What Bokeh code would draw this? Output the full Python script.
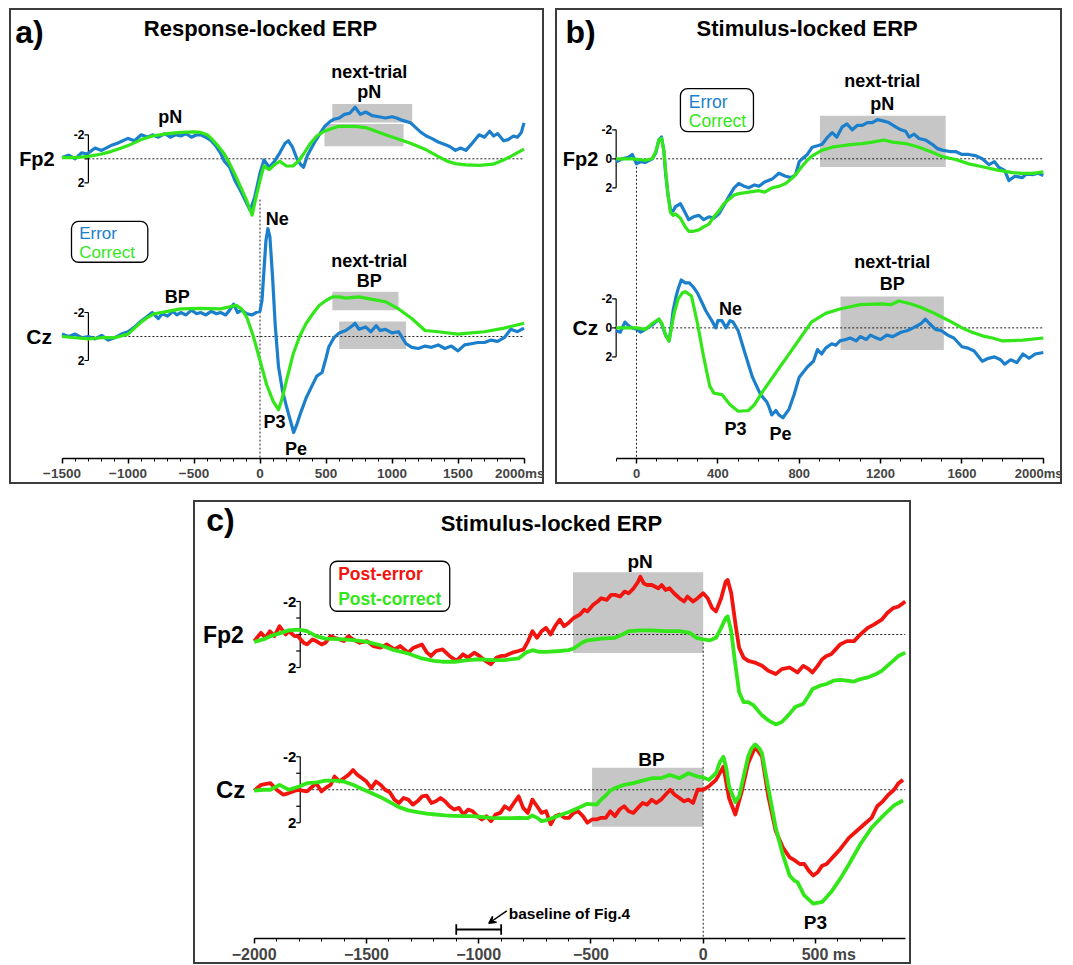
from bokeh.plotting import figure
from bokeh.models import LinearAxis, FixedTicker, BoxAnnotation, Arrow, VeeHead, Spacer
from bokeh.layouts import row, column
from bokeh.core.properties import value
from bokeh.embed import file_html
from bokeh.resources import INLINE

# ---------------- DATA (ms, microvolts; negative plotted upward) ----------------
# Panel a: response-locked
a_fp2_err_t = [-1500,-1450,-1400,-1350,-1310,-1250,-1200,-1130,-1080,-1000,-950,-900,-850,-815,-770,-720,-680,-640,-600,-560,-520,-480,-450,-410,-370,-330,-300,-270,-230,-190,-150,-110,-75,-40,0,30,70,110,150,190,215,245,280,310,330,360,385,420,460,490,530,560,600,640,680,720,760,800,850,900,950,1000,1035,1080,1140,1180,1220,1260,1300,1350,1400,1440,1480,1520,1560,1600,1660,1700,1740,1770,1800,1845,1880,1920,1950,1980,2000]
a_fp2_err_v = [-0.1,-0.3,0.0,-0.5,-0.4,-0.9,-0.7,-1.1,-1.3,-1.7,-1.5,-2.0,-1.8,-2.0,-1.8,-2.1,-1.8,-2.0,-1.9,-2.1,-1.8,-2.0,-2.0,-1.8,-1.5,-1.0,-0.5,0.2,0.7,1.8,2.6,3.5,4.3,3.2,1.2,0.1,0.7,0.2,-0.5,-1.3,-1.5,-1.0,0.0,0.5,0.7,-0.3,-0.8,-1.5,-2.2,-2.7,-3.1,-3.3,-3.4,-3.7,-3.8,-4.3,-3.7,-3.9,-3.6,-3.5,-3.4,-3.5,-3.4,-3.2,-3.0,-2.6,-2.2,-1.9,-1.7,-1.4,-1.2,-1.0,-0.7,-0.9,-0.7,-1.2,-2.0,-1.8,-2.3,-1.9,-2.1,-1.5,-1.6,-1.9,-1.8,-2.2,-3.0]
a_fp2_cor_t = [-1500,-1400,-1300,-1200,-1130,-1050,-1000,-900,-815,-700,-600,-500,-450,-400,-370,-320,-270,-230,-190,-140,-100,-60,-30,0,30,70,110,150,200,250,290,330,383,430,488,540,592,650,722,800,853,950,1035,1140,1250,1348,1420,1479,1560,1661,1766,1844,1900,1948,2000]
a_fp2_cor_v = [-0.1,-0.1,-0.2,-0.4,-0.6,-0.9,-1.1,-1.6,-1.9,-2.1,-2.2,-2.25,-2.2,-2.0,-1.7,-1.1,-0.4,0.4,1.3,2.5,3.5,4.7,3.2,1.8,0.6,0.9,0.5,0.2,0.6,0.6,0.2,-0.4,-1.3,-1.9,-2.3,-2.5,-2.7,-2.7,-2.7,-2.6,-2.4,-2.0,-1.7,-1.3,-0.8,-0.2,0.2,0.4,0.5,0.55,0.45,0.1,-0.2,-0.5,-0.8]
a_cz_err_t = [-1500,-1450,-1400,-1350,-1300,-1250,-1200,-1150,-1100,-1050,-1000,-950,-900,-850,-816,-770,-740,-700,-660,-630,-600,-560,-520,-480,-450,-410,-370,-330,-300,-260,-230,-200,-170,-140,-100,-60,-30,0,15,30,45,60,75,95,115,140,170,200,230,255,280,310,350,390,430,470,500,520,560,600,650,700,720,750,800,840,880,910,950,1000,1050,1106,1150,1200,1250,1300,1350,1400,1450,1500,1550,1600,1650,1700,1750,1800,1850,1900,1950,2000]
a_cz_err_v = [-0.2,0.0,-0.2,0.1,0.0,0.2,-0.1,0.3,0.1,-0.2,-0.4,-0.8,-1.3,-1.7,-2.0,-1.5,-1.9,-1.7,-2.1,-1.8,-2.0,-1.8,-2.2,-1.9,-2.0,-1.8,-2.1,-1.9,-2.0,-1.8,-2.2,-2.7,-2.0,-2.2,-1.9,-1.8,-2.0,-2.1,-3.0,-5.5,-8.0,-9.0,-8.3,-5.0,-1.0,2.5,4.5,5.8,7.0,8.0,7.3,6.3,5.1,4.2,3.3,3.0,1.8,0.9,0.1,-0.3,-0.5,-0.9,-1.1,-0.6,-0.8,-0.4,-0.9,-0.5,-0.6,-0.3,-0.4,0.6,0.9,1.0,0.8,0.9,0.7,1.0,0.8,1.2,0.7,0.6,0.5,0.5,0.3,0.4,0.1,-0.6,-0.4,-0.7]
a_cz_cor_t = [-1500,-1400,-1300,-1200,-1100,-1000,-950,-900,-850,-800,-700,-600,-450,-300,-220,-180,-140,-100,-50,0,50,100,140,170,200,250,300,350,400,450,500,550,600,650,750,850,950,1050,1150,1250,1350,1500,1600,1700,1850,2000]
a_cz_cor_v = [0.0,0.1,0.2,0.1,0.1,-0.2,-0.7,-1.2,-1.6,-1.9,-2.1,-2.3,-2.35,-2.3,-2.5,-2.6,-2.3,-1.6,0.0,2.0,4.0,5.4,6.1,5.1,3.7,1.5,0.0,-1.1,-1.9,-2.6,-3.0,-3.3,-3.3,-3.2,-3.3,-3.1,-2.9,-2.3,-1.5,-0.5,-0.4,-0.2,-0.3,-0.4,-0.7,-1.1]
# shaded windows: (start ms, end ms, top uV, bottom uV)
a_fp2_boxes = [(548, 1153, -4.57, -3.03), (488, 1088, -2.89, -1.04)]
a_cz_boxes = [(548, 1049, -3.73, -2.18), (600, 1106, -1.26, 1.04)]
a_ticks = [-1500, -1000, -500, 0, 500, 1000, 1500, 2000]

# Panel b: stimulus-locked
b_fp2_err_t = [-100,-70,-40,-21,0,20,44,77,95,110,123,135,143,155,167,180,192,216,235,257,280,307,330,356,380,405,430,454,480,503,530,552,580,602,630,667,700,733,760,782,800,815,840,864,890,913,940,962,985,1011,1035,1061,1085,1110,1135,1159,1185,1216,1240,1274,1300,1323,1340,1365,1389,1420,1454,1480,1503,1540,1569,1600,1634,1670,1700,1733,1760,1782,1810,1831,1860,1897,1920,1946,1975,2000]
b_fp2_err_v = [0.2,0.0,-0.1,-0.3,0.35,0.2,0.25,0.0,-0.4,-1.3,-1.5,-0.5,1.0,2.5,3.5,3.6,3.3,3.1,3.6,4.2,4.0,3.9,4.2,4.0,4.1,3.8,3.2,2.6,2.0,1.7,1.9,2.0,1.8,1.9,1.6,1.4,1.0,1.2,1.3,1.1,0.2,0.0,-0.3,-0.8,-0.9,-1.0,-1.5,-1.8,-1.5,-2.2,-2.4,-2.0,-2.3,-2.3,-2.5,-2.5,-2.7,-2.6,-2.5,-2.2,-2.0,-1.9,-1.5,-1.7,-1.4,-1.3,-1.0,-0.7,-0.6,-0.5,-0.5,-0.3,-0.3,-0.2,0.0,0.4,0.2,0.6,0.8,1.5,1.2,1.3,1.0,1.1,1.0,1.15]
b_fp2_cor_t = [-100,-21,44,77,95,110,123,135,143,155,167,180,192,216,240,257,280,307,330,356,380,405,430,454,480,503,552,602,630,667,700,733,760,782,815,840,864,913,962,1011,1061,1110,1160,1216,1260,1323,1389,1454,1503,1569,1634,1700,1782,1850,1897,1950,2000]
b_fp2_cor_v = [0.0,0.0,0.1,0.0,-0.5,-1.3,-1.4,-0.5,0.8,2.5,3.7,3.9,3.8,4.1,4.7,5.0,5.0,4.9,4.7,4.5,4.0,3.6,3.1,2.8,2.5,2.4,2.3,2.2,2.3,2.0,1.9,1.7,1.4,1.1,0.5,0.1,-0.2,-0.6,-0.8,-0.9,-1.0,-1.05,-1.15,-1.3,-1.15,-1.05,-0.8,-0.45,-0.15,0.05,0.35,0.55,0.8,0.95,1.0,1.0,0.9]
b_cz_err_t = [-100,-80,-57,-35,-21,0,20,44,77,110,123,143,160,170,180,195,205,220,240,260,280,300,320,340,370,390,400,420,440,460,475,500,530,570,610,640,650,665,685,700,720,750,775,800,840,870,890,910,930,960,980,1000,1030,1050,1080,1100,1130,1150,1180,1200,1230,1260,1300,1330,1360,1400,1420,1440,1470,1500,1530,1560,1600,1630,1660,1700,1730,1760,1790,1810,1840,1870,1900,1930,1960,2000]
b_cz_err_v = [0.2,0.3,-0.4,-0.1,0.0,0.1,0.3,0.1,-0.2,-0.6,-0.3,0.5,0.9,0.0,-1.2,-2.2,-2.7,-3.3,-3.1,-3.1,-2.8,-2.4,-1.8,-1.2,-0.5,0.0,-0.5,-0.5,0.0,-0.5,-0.4,0.2,1.6,3.4,4.6,5.1,5.4,6.0,5.7,6.0,6.2,5.6,4.6,3.4,2.7,2.3,1.5,1.8,1.4,1.1,1.2,0.9,0.8,0.7,0.9,0.6,0.8,0.5,0.7,0.8,0.5,0.6,0.3,0.2,0.0,-0.3,-0.6,-0.3,0.1,0.2,0.5,0.7,1.3,1.4,1.6,2.3,2.1,2.0,2.2,2.5,2.2,2.4,1.8,2.1,1.8,1.7]
b_cz_cor_t = [-100,0,44,77,110,125,143,160,185,205,225,240,270,300,330,360,380,420,460,500,550,580,620,680,740,800,860,930,1000,1100,1200,1250,1290,1350,1400,1450,1500,1550,1600,1650,1700,1750,1800,1900,2000]
b_cz_cor_v = [0.0,0.0,0.1,-0.3,-0.6,-0.3,0.5,0.9,-1.0,-2.0,-2.4,-2.5,-2.2,-0.3,2.0,4.0,4.5,4.6,5.3,5.75,5.7,5.3,4.4,3.2,2.0,0.8,-0.4,-1.0,-1.3,-1.6,-1.65,-1.6,-1.85,-1.65,-1.4,-1.1,-0.75,-0.4,0.0,0.3,0.55,0.7,0.9,0.85,0.7]
b_fp2_boxes = [(902, 1520, -2.97, 0.57)]
b_cz_boxes = [(1003, 1511, -2.17, 1.52)]
b_ticks = [0, 400, 800, 1200, 1600, 2000]

# Panel c: stimulus-locked, post-error vs post-correct
c_fp2_err_t = [-2000,-1970,-1950,-1930,-1910,-1887,-1860,-1846,-1820,-1805,-1780,-1765,-1740,-1724,-1700,-1683,-1660,-1642,-1620,-1601,-1580,-1560,-1530,-1498,-1470,-1437,-1410,-1376,-1350,-1314,-1290,-1253,-1230,-1212,-1190,-1161,-1130,-1099,-1070,-1048,-1020,-997,-970,-946,-920,-900,-884,-850,-823,-800,-780,-761,-740,-720,-700,-680,-660,-639,-620,-600,-577,-550,-530,-516,-490,-470,-454,-430,-410,-393,-370,-350,-332,-310,-290,-280,-265,-250,-229,-200,-185,-168,-150,-130,-106,-85,-70,-45,-25,0,20,40,57,80,100,109,125,145,160,180,201,230,262,290,323,350,385,420,446,470,487,510,530,549,570,590,610,640,672,700,733,760,795,820,846,870,900]
c_fp2_err_v = [0.4,-0.1,0.2,-0.2,0.1,-0.5,0.0,-0.2,0.1,0.1,0.5,0.6,0.3,0.4,0.6,0.5,0.1,0.2,0.3,0.4,0.1,0.3,0.5,0.4,0.7,0.8,0.6,0.9,0.7,1.1,0.8,0.6,1.1,1.3,1.0,0.9,1.3,1.6,1.2,1.4,1.1,1.3,1.6,1.8,1.4,1.3,1.3,1.1,1.0,0.9,0.4,-0.2,0.2,-0.2,-0.4,0.0,-0.5,-0.9,-0.5,-0.7,-1.0,-1.2,-1.5,-1.4,-1.8,-2.0,-2.2,-2.1,-2.4,-2.4,-2.3,-2.6,-2.5,-2.8,-3.2,-3.5,-3.1,-3.0,-3.0,-2.8,-3.0,-2.7,-2.8,-2.5,-2.2,-2.0,-2.3,-2.0,-2.2,-2.5,-2.2,-1.6,-1.4,-2.2,-3.2,-3.3,-2.5,-0.5,0.8,1.4,1.6,1.7,1.9,2.2,2.4,2.1,2.0,2.3,1.9,2.1,2.3,1.9,1.5,1.3,1.2,0.9,0.6,0.4,0.4,0.0,-0.4,-0.6,-0.9,-1.3,-1.6,-1.7,-2.0]
c_fp2_cor_t = [-2000,-1960,-1928,-1880,-1846,-1805,-1765,-1724,-1683,-1601,-1550,-1498,-1437,-1376,-1314,-1253,-1200,-1161,-1099,-1050,-997,-940,-884,-823,-790,-761,-730,-700,-639,-600,-577,-540,-516,-454,-393,-360,-332,-280,-229,-168,-106,-60,-30,0,30,57,80,100,109,125,140,160,180,201,225,262,290,323,350,385,410,446,470,487,520,549,580,610,640,672,700,733,770,795,820,846,870,900]
c_fp2_cor_v = [0.45,0.3,0.1,-0.1,-0.25,-0.3,-0.2,0.1,0.25,0.3,0.35,0.45,0.65,0.95,1.15,1.45,1.6,1.65,1.65,1.55,1.5,1.55,1.55,1.45,1.1,0.95,1.05,1.05,1.0,0.95,0.85,0.5,0.35,0.25,0.2,0.0,-0.2,-0.25,-0.25,-0.2,-0.2,-0.1,0.2,0.3,0.35,0.2,-0.4,-1.0,-1.1,-0.2,1.5,3.5,4.1,4.1,4.3,4.9,5.2,5.45,5.3,4.8,4.4,4.2,3.7,3.3,3.1,3.0,2.8,2.75,2.8,2.85,2.7,2.6,2.4,2.2,1.9,1.6,1.3,1.1]
c_cz_err_t = [-2000,-1969,-1928,-1900,-1870,-1846,-1805,-1765,-1740,-1724,-1700,-1683,-1660,-1642,-1620,-1601,-1580,-1560,-1540,-1519,-1500,-1478,-1458,-1437,-1417,-1396,-1375,-1355,-1335,-1314,-1293,-1273,-1252,-1232,-1211,-1191,-1170,-1150,-1130,-1109,-1088,-1068,-1047,-1027,-1006,-986,-965,-945,-925,-904,-884,-863,-843,-822,-802,-781,-761,-740,-720,-700,-679,-659,-639,-618,-598,-577,-557,-536,-516,-495,-475,-455,-434,-414,-393,-373,-352,-332,-311,-291,-270,-250,-229,-209,-188,-168,-147,-127,-106,-86,-65,-45,-25,0,25,57,90,115,143,170,200,232,262,290,323,355,385,410,430,450,470,490,510,530,550,570,590,610,650,700,725,750,775,800,825,850,870,890]
c_cz_err_v = [0.05,-0.3,-0.4,0.0,0.3,0.2,0.0,0.1,-0.2,-0.4,0.1,-0.1,-0.3,-0.8,-0.5,-0.7,-0.9,-1.2,-0.9,-0.7,-0.5,-0.1,-0.5,-0.3,0.0,0.15,0.6,0.8,0.5,0.6,0.9,0.7,0.4,0.35,0.8,0.7,0.5,0.7,1.0,1.2,1.1,1.5,1.2,1.3,1.6,1.8,1.6,1.9,1.5,1.4,1.0,1.2,0.8,0.4,1.1,1.4,0.6,1.0,1.4,1.3,2.1,1.6,1.5,1.7,1.7,1.4,1.3,1.6,2.0,1.8,1.8,1.7,1.7,1.3,1.6,1.2,1.0,1.3,1.4,1.1,0.8,0.9,0.6,0.8,0.6,0.3,0.0,0.3,0.5,0.7,0.6,0.8,0.0,0.0,-0.2,-0.6,-1.4,0.5,1.5,0.2,-1.6,-2.6,-2.0,0.4,2.5,3.5,4.1,4.3,4.5,4.5,4.9,5.2,5.0,4.6,4.5,4.2,3.9,3.6,2.9,2.3,2.0,1.7,1.0,0.7,0.3,0.0,-0.4,-0.6]
c_cz_cor_t = [-2000,-1960,-1928,-1887,-1860,-1846,-1800,-1765,-1720,-1683,-1640,-1601,-1560,-1519,-1478,-1437,-1396,-1355,-1314,-1273,-1232,-1191,-1150,-1109,-1068,-1027,-986,-945,-904,-863,-822,-781,-761,-740,-720,-700,-679,-639,-598,-557,-516,-475,-455,-434,-414,-393,-352,-311,-270,-229,-188,-168,-147,-127,-106,-86,-65,-45,-25,0,25,57,75,90,103,115,143,160,180,200,215,232,250,262,290,323,355,385,405,420,450,490,530,570,610,650,700,750,800,850,890]
c_cz_cor_v = [0.05,0.0,0.0,-0.3,-0.1,0.0,-0.2,-0.4,-0.45,-0.55,-0.55,-0.5,-0.3,-0.05,0.2,0.45,0.75,1.05,1.25,1.35,1.45,1.5,1.55,1.58,1.6,1.6,1.65,1.7,1.72,1.72,1.7,1.72,1.55,1.7,1.9,1.85,1.75,1.55,1.35,1.1,0.85,0.9,0.6,0.35,0.05,-0.1,-0.3,-0.4,-0.55,-0.7,-0.7,-0.8,-0.9,-0.8,-0.7,-0.85,-1.0,-0.9,-0.8,-0.75,-0.6,-1.0,-1.7,-2.0,-1.3,-0.2,0.75,0.4,-0.8,-2.0,-2.5,-2.75,-2.5,-2.2,-0.1,2.3,3.95,5.2,5.5,5.6,6.4,6.9,6.8,6.2,5.4,4.5,3.3,2.3,1.6,0.95,0.65]
c_fp2_boxes = [(-580, 0, -3.78, 1.12)]
c_cz_boxes = [(-495, 0, -1.33, 2.24)]
c_ticks = [-2000, -1500, -1000, -500, 0, 500]
c_baseline_window = [-1100, -900]

# ---------------- STYLE ----------------
FONT = "Liberation Sans"
BLUE = "#1b7fcc"
GREEN = "#33e619"
RED = "#f2140f"
GREY = "#c6c6c6"


def make_fig(w, h, zero_px, px_per_ms, base_px, px_per_uv):
    x0 = -zero_px / px_per_ms
    y1 = base_px / px_per_uv
    p = figure(width=w, height=h,
               x_range=(x0, x0 + w / px_per_ms),
               y_range=(y1 - h / px_per_uv, y1),
               x_axis_location=None, y_axis_location=None,
               toolbar_location=None, output_backend="svg", min_border=0)
    p.grid.visible = False
    p.outline_line_color = "#3c3c3c"
    p.outline_line_width = 3
    p.background_fill_color = "white"
    p.border_fill_color = "white"
    return p


def txt(p, x, y, s, size, color="black", bold=True, align="center", xo=0):
    p.text(x=[x], y=[y], text=[s], text_font=value(FONT), text_font_size=f"{size}px",
           text_font_style="bold" if bold else "normal", text_color=color,
           text_align=align, text_baseline="middle", x_offset=xo)


def xaxis(p, yloc, bounds, major, minor, overrides, fsize):
    ax = LinearAxis(fixed_location=yloc, bounds=bounds,
                    ticker=FixedTicker(ticks=major, minor_ticks=minor))
    ax.major_label_overrides = overrides
    ax.major_label_text_font = FONT
    ax.major_label_text_font_style = "bold"
    ax.major_label_text_font_size = f"{fsize}px"
    ax.major_label_standoff = 2
    ax.major_tick_in = 0
    ax.major_tick_out = 5
    ax.minor_tick_in = 0
    ax.minor_tick_out = 3
    ax.axis_line_width = 1.5
    ax.major_tick_line_width = 1.5
    ax.axis_line_color = "black"
    p.add_layout(ax, "below")


def boxes(p, bx, base):
    p.quad(left=[b[0] for b in bx], right=[b[1] for b in bx],
           top=[base - b[2] for b in bx], bottom=[base - b[3] for b in bx],
           fill_color=GREY, line_color=None)


def trace(p, t, v, base, color, lw):
    p.line(t, [base - x for x in v], line_color=color, line_width=lw, line_join="round")


def scalebar(p, xb, base, tick_ms, ticks, labels, fsize, xend):
    p.line([xend[0], xend[1]], [base, base], line_color="#222", line_width=1, line_dash="2 2")
    p.segment(x0=[xb], y0=[base + 2], x1=[xb], y1=[base - 2], line_color="black", line_width=1.2)
    p.segment(x0=[xb] * len(ticks), y0=[base - t for t in ticks],
              x1=[xb - tick_ms] * len(ticks), y1=[base - t for t in ticks],
              line_color="black", line_width=1.2)
    for val, lab in labels:
        txt(p, xb, base - val, lab, fsize, align="right", xo=-4)


def legend_box(p, l, r, t, b):
    p.add_layout(BoxAnnotation(left=l, right=r, top=t, bottom=b, fill_color="white", fill_alpha=1,
                               line_color="black", line_alpha=1, line_width=1.3,
                               border_radius=7, level="underlay"))


# ---------------- PANEL A ----------------
A_PXMS, A_PXUV = 0.132, 12.0
pa = make_fig(535, 476, 250.5, A_PXMS, 150.3, A_PXUV)
A_FP2, A_CZ, A_AX = 0.0, -14.81, -25.0
boxes(pa, a_fp2_boxes, A_FP2)
boxes(pa, a_cz_boxes, A_CZ)
pa.line([0, 0], [-3.4, A_AX], line_color="#222", line_width=1, line_dash="2 2")
for base in (A_FP2, A_CZ):
    scalebar(pa, -1300, base, 4 / A_PXMS, [-2, 0, 2], [(-2, "-2"), (2, "2")], 12, (-1300, 2000))
trace(pa, a_fp2_err_t, a_fp2_err_v, A_FP2, BLUE, 3.2)
trace(pa, a_fp2_cor_t, a_fp2_cor_v, A_FP2, GREEN, 3.2)
trace(pa, a_cz_err_t, a_cz_err_v, A_CZ, BLUE, 3.2)
trace(pa, a_cz_cor_t, a_cz_cor_v, A_CZ, GREEN, 3.2)
xaxis(pa, A_AX, (-1500, 2000), a_ticks, list(range(-1500, 2001, 100)), {2000: "2000ms"}, 13.5)
txt(pa, -1746, 10.55, "a)", 32)
txt(pa, 4, 10.83, "Response-locked ERP", 22)
txt(pa, -1690, A_FP2, "Fp2", 20)
txt(pa, -1673, A_CZ, "Cz", 21)
txt(pa, -680, 3.47, "pN", 18)
txt(pa, 828, 7.22, "next-trial", 18)
txt(pa, 828, 5.55, "pN", 18)
txt(pa, 130, -5.0, "Ne", 18)
txt(pa, -627, -11.53, "BP", 18)
txt(pa, 828, -8.48, "next-trial", 18)
txt(pa, 828, -10.2, "BP", 18)
txt(pa, 110, -21.95, "P3", 18)
txt(pa, 273, -24.2, "Pe", 18)
legend_box(pa, -1428, -850, -5.22, -8.62)
txt(pa, -1370, -6.2, "Error", 17, BLUE, bold=False, align="left")
txt(pa, -1370, -7.78, "Correct", 17, GREEN, bold=False, align="left")

# ---------------- PANEL B ----------------
B_PXMS, B_PXUV = 0.2034, 14.5
pb = make_fig(507, 476, 81, B_PXMS, 150.3, B_PXUV)
B_FP2, B_CZ, B_AX = 0.0, -11.66, -20.69
boxes(pb, b_fp2_boxes, B_FP2)
boxes(pb, b_cz_boxes, B_CZ)
pb.line([0, 0], [0, B_AX], line_color="#222", line_width=1, line_dash="2 2")
for base in (B_FP2, B_CZ):
    scalebar(pb, -100, base, 4 / B_PXMS, [-2, 0, 2], [(-2, "-2"), (0, "0"), (2, "2")], 12, (-100, 2000))
trace(pb, b_fp2_err_t, b_fp2_err_v, B_FP2, BLUE, 3.2)
trace(pb, b_fp2_cor_t, b_fp2_cor_v, B_FP2, GREEN, 3.2)
trace(pb, b_cz_err_t, b_cz_err_v, B_CZ, BLUE, 3.2)
trace(pb, b_cz_cor_t, b_cz_cor_v, B_CZ, GREEN, 3.2)
xaxis(pb, B_AX, (-100, 2000), b_ticks, list(range(-100, 2001, 100)), {2000: "2000ms"}, 13)
txt(pb, -275, 8.74, "b)", 32)
txt(pb, 839, 8.97, "Stimulus-locked ERP", 22)
txt(pb, -275, B_FP2, "Fp2", 20)
txt(pb, -251, B_CZ, "Cz", 21)
txt(pb, 1208, 5.35, "next-trial", 18)
txt(pb, 1208, 3.79, "pN", 18)
txt(pb, 1257, -7.13, "next-trial", 18)
txt(pb, 1257, -8.62, "BP", 18)
txt(pb, 462, -10.34, "Ne", 18)
txt(pb, 487, -18.62, "P3", 18)
txt(pb, 708, -18.97, "Pe", 18)
legend_box(pb, 216, 575, 4.84, 1.88)
txt(pb, 257, 3.9, "Error", 17.5, BLUE, bold=False, align="left")
txt(pb, 257, 2.64, "Correct", 17.5, GREEN, bold=False, align="left")

# ---------------- PANEL C ----------------
C_PXMS, C_PXUV = 0.2245, 16.5
pc = make_fig(718, 464, 509.7, C_PXMS, 134, C_PXUV)
C_FP2, C_CZ, C_AX = 0.0, -9.41, -18.44
boxes(pc, c_fp2_boxes, C_FP2)
boxes(pc, c_cz_boxes, C_CZ)
pc.line([0, 0], [-0.5, C_AX], line_color="#222", line_width=1, line_dash="2 2")
for base in (C_FP2, C_CZ):
    scalebar(pc, -1795, base, 4 / C_PXMS, [-2, -1, 0, 1, 2], [(-2, "-2"), (2, "2")], 15, (-1795, 900))
trace(pc, c_fp2_err_t, c_fp2_err_v, C_FP2, RED, 3.8)
trace(pc, c_fp2_cor_t, c_fp2_cor_v, C_FP2, GREEN, 3.8)
trace(pc, c_cz_err_t, c_cz_err_v, C_CZ, RED, 3.8)
trace(pc, c_cz_cor_t, c_cz_cor_v, C_CZ, GREEN, 3.8)
xaxis(pc, C_AX, (-2000, 900), c_ticks, list(range(-2000, 801, 100)),
      {500: "\u00a0" * 6 + "500 ms"}, 16)
txt(pc, -2150, 6.93, "c)", 32)
txt(pc, -676, 6.71, "Stimulus-locked ERP", 22)
txt(pc, -2137, C_FP2, "Fp2", 23)
txt(pc, -2105, C_CZ, "Cz", 24)
txt(pc, -281, 4.44, "pN", 19)
txt(pc, -230, -7.59, "BP", 19)
txt(pc, 500, -17.44, "P3", 19)
legend_box(pc, -1662, -1129, 4.44, 1.41)
txt(pc, -1626, 3.68, "Post-error", 17.5, RED, align="left")
txt(pc, -1626, 2.16, "Post-correct", 17.5, GREEN, align="left")
BL_Y = -17.88
pc.line(c_baseline_window, [BL_Y, BL_Y], line_color="black", line_width=2.2)
pc.segment(x0=c_baseline_window, y0=[BL_Y + 0.32] * 2, x1=c_baseline_window, y1=[BL_Y - 0.32] * 2,
           line_color="black", line_width=1.8)
txt(pc, -866, -16.93, "baseline of Fig.4", 15.5, align="left")
pc.add_layout(Arrow(x_start=-875, y_start=-16.75, x_end=-955, y_end=-17.5,
                    line_width=1.5, end=VeeHead(size=7, line_width=1.5)))

layout = column(
    Spacer(width=10, height=8),
    row(Spacer(width=9, height=476), pa, Spacer(width=11, height=476), pb),
    Spacer(width=10, height=16),
    row(Spacer(width=193, height=464), pc),
)

open("out.html", "w").write(file_html(layout, INLINE))
